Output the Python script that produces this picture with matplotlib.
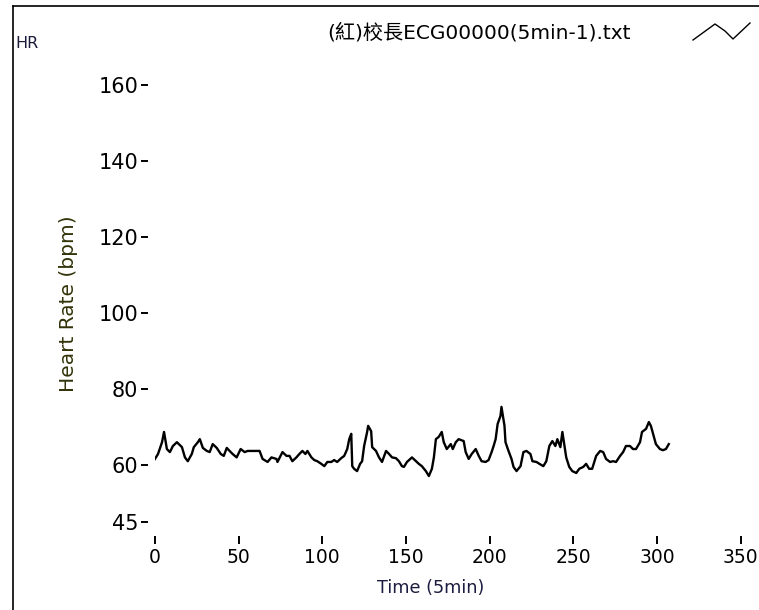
#!/usr/bin/env python3
'''Heart rate trace of one 5 min ECG recording.'''

import matplotlib
matplotlib.use('Agg')
import matplotlib.pyplot as plt
from matplotlib.lines import Line2D


title = '(紅)校長ECG00000(5min-1).txt'
x_ticks = [0, 50, 100, 150, 200, 250, 300, 350]
y_ticks = [45, 60, 80, 100, 120, 140, 160]

# values (time, bpm)
time = [0, 1.8, 4.2, 5.4, 7.1, 8.9, 10.7, 13.1, 16.1, 17.9, 19.6, 22, 23.2,
	25.6, 26.8, 28.6, 31, 32.7, 34.5, 36.9, 39.3, 41.1, 42.9, 44.6, 46.4,
	48.8, 51.2, 53.6, 55.4, 58.3, 62.5, 64.3, 67.3, 69.6, 72.6, 73.2, 76.2,
	78.6, 80.4, 82.1, 84.5, 86.3, 88.1, 89.9, 91.1, 93.5, 95.2, 97, 99.4,
	101.2, 103, 105.4, 107.1, 108.9, 111.3, 113.1, 114.9, 116.1, 117.3, 117.9,
	119, 120.8, 122.6, 123.8, 125, 126.8, 127.4, 129.2, 129.8, 132.1, 133.9,
	135.7, 138.1, 139.9, 141.7, 144, 145.8, 147.6, 148.8, 150.6, 153.6, 156,
	157.7, 159.5, 161.9, 163.7, 165.5, 166.7, 167.9, 169.6, 171.4, 172.6,
	174.4, 176.8, 178, 179.8, 181.5, 184.5, 185.7, 187.5, 189.3, 191.7, 193.5,
	195.2, 197.6, 199.4, 201.2, 202.4, 203.6, 204.8, 206.5, 207.1, 208.9,
	209.5, 211.3, 213.1, 214.3, 216.1, 218.5, 220.2, 222, 224.4, 225.6, 228,
	229.8, 232.1, 233.9, 235.7, 237.5, 239.3, 240.5, 242.3, 243.5, 244.6,
	245.8, 247.6, 249.4, 251.8, 253.6, 256, 257.7, 259.5, 261.3, 263.7, 266.1,
	267.9, 269.6, 272, 273.8, 275.6, 278, 279.8, 281.5, 283.9, 285.7, 287.5,
	289.9, 291.1, 293.5, 295.2, 296.4, 298.2, 299.4, 301.8, 303.6, 305.4, 307.1]
hr = [61.6, 62.9, 66, 68.7, 64.2, 63.4, 65, 66, 64.7, 62, 61, 62.9, 64.7,
	66, 66.8, 64.5, 63.7, 63.4, 65.5, 64.5, 62.9, 62.4, 64.5, 63.7, 62.9,
	62, 64.2, 63.4, 63.7, 63.7, 63.7, 61.6, 60.8, 62, 61.6, 60.8, 63.4,
	62.4, 62.4, 61, 62, 62.9, 63.7, 62.9, 63.7, 62, 61.3, 61, 60.3,
	59.7, 60.8, 60.8, 61.3, 60.8, 61.8, 62.4, 64.2, 66.8, 68.2, 59.7,
	59, 58.4, 60.3, 61, 65, 68.7, 70.3, 68.9, 64.7, 63.7, 62,
	60.8, 63.7, 62.9, 62, 61.8, 61, 59.7, 59.5, 60.8, 62, 61,
	60.3, 59.7, 58.4, 57.1, 59, 62, 66.8, 67.4, 68.7, 66,
	64.2, 65.5, 64.2, 66, 66.8, 66.3, 63.4, 61.6, 62.9, 64.2, 62.4,
	61, 60.8, 61.3, 63.4, 65, 66.8, 70.8, 72.9, 75.3, 70.3,
	66, 63.7, 61.6, 59.5, 58.4, 59.7, 63.4, 63.7, 62.9, 61, 60.8,
	60.3, 59.7, 61, 65, 66.3, 65, 66.8, 64.7, 68.7, 65.5,
	62, 59.5, 58.4, 57.9, 59, 59.5, 60.3, 59, 59, 62.4, 63.7,
	63.4, 61.6, 60.8, 61, 60.8, 62.4, 63.4, 65, 65, 64.2, 64.2,
	66, 68.7, 69.5, 71.3, 70.3, 67.4, 65.5, 64.2, 63.9, 64.2, 65.5]

W, H = 759, 610
fig = plt.figure(figsize=(W / 100, H / 100), dpi=100)

# axes box in pixels: x=0 at 155px, y=45 at 522px, y=160 at 85px
left, right, top, bottom = 155, 744, 85, 522
ax = fig.add_axes([left / W, (H - bottom) / H, (right - left) / W, (bottom - top) / H])
ax.plot(time, hr, color='black', lw=1.7)
ax.set_xlim(0, (right - left) / 1.673)
ax.set_ylim(45, 160)

for s in ax.spines.values():
	s.set_visible(False)
ax.spines['left'].set_position(('outward', 5))
ax.spines['bottom'].set_position(('outward', 10))
ax.set_xticks(x_ticks)
ax.set_yticks(y_ticks)
ax.tick_params(axis='y', length=5, width=1.4, pad=2, labelsize=15)
ax.tick_params(axis='x', length=6, width=1.4, pad=3, labelsize=13.5)

ax.set_ylabel('Heart Rate (bpm)', fontsize=14.5, color='#33330a', va='center')
ax.yaxis.set_label_coords((68 - left) / (right - left), 0.5)
ax.set_xlabel('Time (5min)', fontsize=12.7, color='#1c1c40', va='center')
ax.xaxis.set_label_coords((431 - left) / (right - left), (bottom - 588) / (bottom - top))

fig.text(479 / W, 1 - 33 / H, title, ha='center', va='center', fontsize=14.5,
	family=['DejaVu Sans', 'Noto Sans CJK TC'])
fig.text(15 / W, 1 - 43 / H, 'HR', ha='left', va='center', fontsize=11.5, color='#1a1a3a')

# small legend glyph top right
fig.add_artist(Line2D([693 / W, 715 / W, 725 / W, 733 / W, 750 / W],
	[1 - 40 / H, 1 - 24 / H, 1 - 31 / H, 1 - 39 / H, 1 - 23 / H],
	transform=fig.transFigure, color='black', lw=1))

# frame around the panel (left and top edges visible)
fig.add_artist(Line2D([13 / W, 13 / W], [0, 1 - 6 / H], transform=fig.transFigure, color='black', lw=1.2))
fig.add_artist(Line2D([13 / W, 1], [1 - 6 / H, 1 - 6 / H], transform=fig.transFigure, color='black', lw=1.2))

fig.savefig('out.png', dpi=100)
